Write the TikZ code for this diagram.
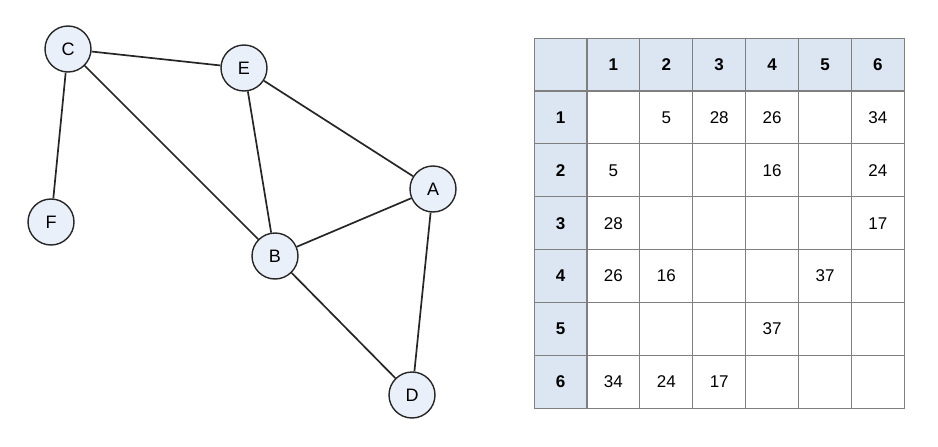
\documentclass[tikz,border=0pt]{standalone}
\usepackage{fontspec}
\setmainfont{Liberation Sans}
\definecolor{vfill}{HTML}{EAF0F9}
\definecolor{hfill}{HTML}{DCE6F2}
\definecolor{gridgray}{HTML}{7F7F7F}
\begin{document}
\begin{tikzpicture}[x=1pt,y=-1pt,
        vertex/.style={circle,draw=black!85,fill=vfill,line width=1.4pt,
          minimum size=46pt,inner sep=0pt,font=\fontsize{18}{18}\selectfont},
        edge/.style={draw=black!85,line width=1.7pt},
        cell/.style={draw=gridgray,line width=1.1pt,minimum size=52.9pt,
          inner sep=0pt,font=\fontsize{17}{17}\selectfont},
        head/.style={cell,fill=hfill,font=\fontsize{17}{17}\selectfont\bfseries}]
    \useasboundingbox (0,0) rectangle (938,447);
    % graph
    \node[vertex] (C) at (68,49) {C};
    \node[vertex] (E) at (244,68) {E};
    \node[vertex] (A) at (433,189) {A};
    \node[vertex] (F) at (51,222) {F};
    \node[vertex] (B) at (275,256) {B};
    \node[vertex] (D) at (412,395) {D};
    \foreach \u/\v in {C/E,C/F,C/B,E/B,E/A,A/B,A/D,B/D}
        \draw[edge] (\u) -- (\v);
    % matrix
    \node[head] (m-0-0) at (560.5,64.5) {};
    \foreach \c in {1,...,6} {
        \node[head] (m-0-\c) at (560.5+52.9*\c,64.5) {\c};
        \node[head] (m-\c-0) at (560.5,64.5+52.9*\c) {\c};
    }
    \foreach \r/\row in {1/{{},5,28,26,{},34},
                         2/{5,{},{},16,{},24},
                         3/{28,{},{},{},{},17},
                         4/{26,16,{},{},37,{}},
                         5/{{},{},{},37,{},{}},
                         6/{34,24,17,{},{},{}}}
        \foreach \val [count=\c] in \row
            \node[cell] (m-\r-\c) at (560.5+52.9*\c,64.5+52.9*\r) {\val};
\end{tikzpicture}
\end{document}
